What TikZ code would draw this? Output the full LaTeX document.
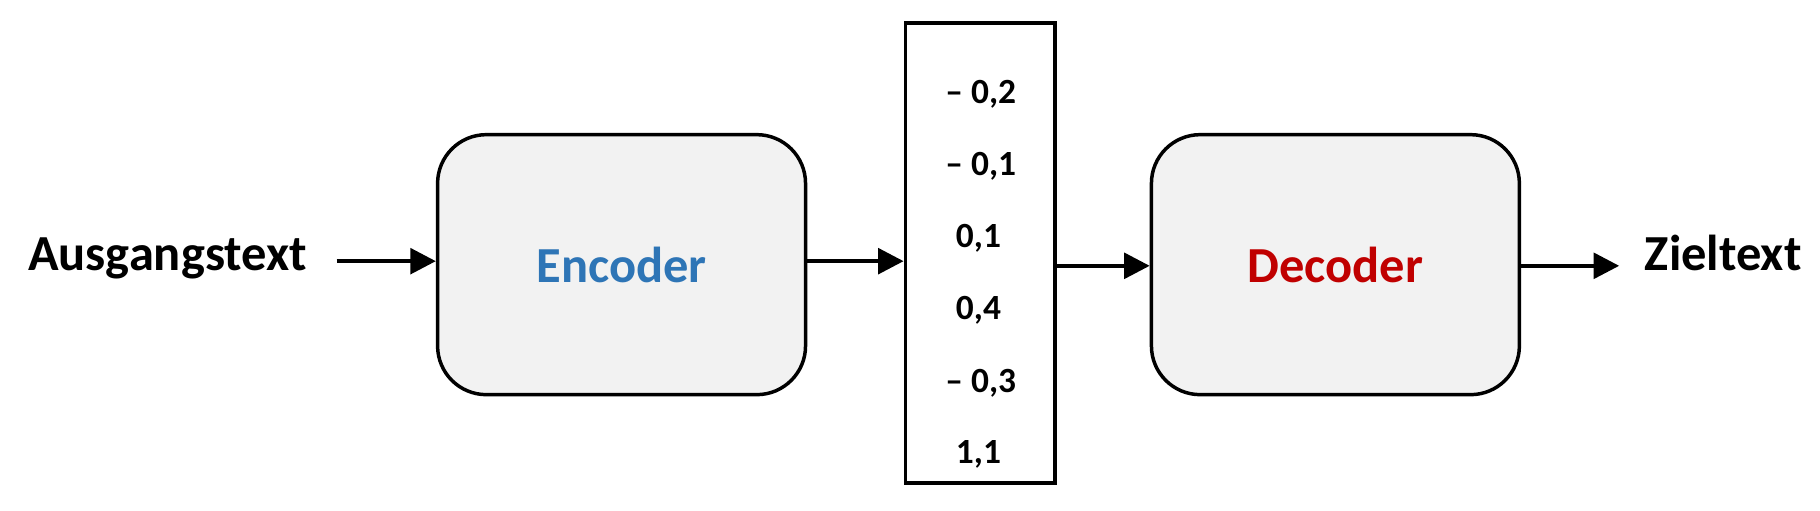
\documentclass[tikz,border=0pt]{standalone}
\usepackage{fontspec}
\setmainfont{Carlito}
\usetikzlibrary{arrows.meta}
\definecolor{encblue}{HTML}{2E75B6}
\definecolor{decred}{HTML}{C00000}
\definecolor{boxfill}{HTML}{F2F2F2}
\begin{document}
\begin{tikzpicture}[x=1pt,y=-1pt,
  blockbox/.style={draw=black, line width=3pt, fill=boxfill, rounded corners=42pt,
    minimum width=317pt, minimum height=224pt, inner sep=0pt,
    font=\fontsize{43.5}{52}\selectfont\bfseries},
  vecbox/.style={draw=black, line width=3pt, fill=white, minimum width=129pt,
    minimum height=396pt, inner sep=0pt},
  lbl/.style={font=\fontsize{43.5}{52}\selectfont\bfseries, inner sep=0pt},
  num/.style={font=\fontsize{30.5}{36}\selectfont\bfseries, inner sep=0pt, anchor=base},
  arr/.style={line width=3.5pt, -{Triangle[length=22pt,width=22pt]}}]
\useasboundingbox (0,0) rectangle (1568,440.2);
\node[blockbox, text=encblue] (enc) at (535.5,228) {Encoder};
\node[blockbox, text=decred] (dec) at (1150.5,228) {Decoder};
\node[vecbox] (vec) at (844.5,218) {};
\node[num] (v1) at (845,89) {– 0,2};
\node[num] (v2) at (845,151) {– 0,1};
\node[num] (v3) at (843,213) {0,1};
\node[num] (v4) at (843,275) {0,4};
\node[num] (v5) at (845,338) {– 0,3};
\node[num] (v6) at (843,399) {1,1};
\node[lbl, anchor=base west] (src) at (24,233) {Ausgangstext};
\node[lbl, anchor=base west] (tgt) at (1417,233) {Zieltext};
\coordinate (s1) at (290,225);
\coordinate (t1) at (1395,229);
\path ([yshift=3pt]enc.east) coordinate (e1);
\path ([yshift=-1pt]dec.west) coordinate (d1);
\draw[arr] (s1) -- (s1 -| enc.west);
\draw[arr] (e1) -- (e1 -| vec.west);
\draw[arr] (d1 -| vec.east) -- (d1);
\draw[arr] (t1 -| dec.east) -- (t1);
\end{tikzpicture}
\end{document}
